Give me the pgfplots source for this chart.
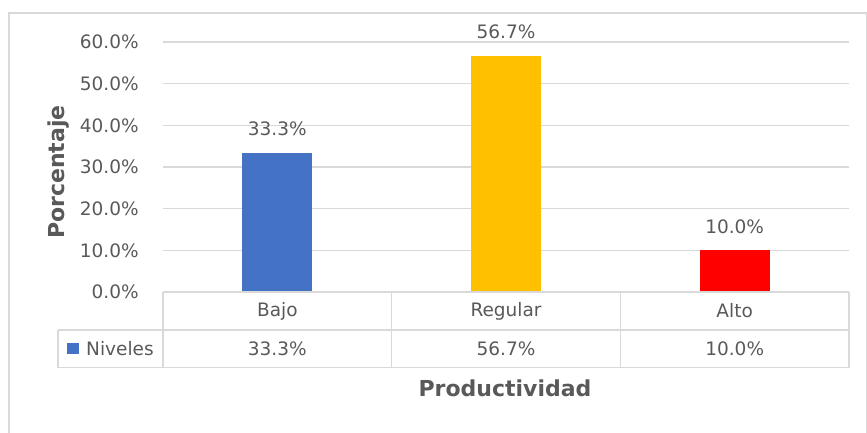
\documentclass[border=0pt]{standalone}
\usepackage{pgfplots}
\pgfplotsset{compat=1.18}
\usepackage{fontspec}
\setmainfont{DejaVu Sans}
\definecolor{txt}{HTML}{595959}
\definecolor{grd}{HTML}{D9D9D9}
\definecolor{cblue}{HTML}{4472C4}
\definecolor{cgold}{HTML}{FFC000}
\definecolor{cred}{HTML}{FF0000}
\begin{document}
\begin{tikzpicture}[x=1pt,y=1pt]
\fontsize{18.5}{22}\selectfont
\draw[grd, line width=1.3pt] (9,-5) rectangle (866.3,419);
\begin{axis}[
  at={(163pt,140pt)}, anchor=south west,
  width=686pt, height=250pt, scale only axis,
  xmin=-0.5, xmax=2.5, ymin=0, ymax=60,
  ybar, bar width=70pt, bar shift=0pt,
  axis line style={draw=none},
  major tick length=0pt,
  ytick={0,10,20,30,40,50,60},
  yticklabels={0.0\%,10.0\%,20.0\%,30.0\%,40.0\%,50.0\%,60.0\%},
  yticklabel style={font=\fontsize{18.5}{22}\selectfont, text=txt, xshift=-18pt},
  xtick={0,1,2},
  xticklabels={Bajo,Regular,Alto},
  xticklabel style={font=\fontsize{18.5}{22}\selectfont, text=txt, anchor=center, yshift=-19pt},
  ymajorgrids, grid style={grd, line width=1.3pt},
  clip=false,
  nodes near coords, point meta=explicit symbolic,
  nodes near coords style={anchor=center, yshift=24pt, font=\fontsize{18.5}{22}\selectfont, text=txt},
]
\addplot[fill=cblue, draw=none] coordinates {(0,33.3) [33.3\%]};
\addplot[fill=cgold, draw=none] coordinates {(1,56.7) [56.7\%]};
\addplot[fill=cred, draw=none] coordinates {(2,10.0) [10.0\%]};
\end{axis}
% data table
\draw[grd, line width=1.3pt] (163,140) -- (849,140);
\draw[grd, line width=1.3pt] (58,102) -- (849,102);
\draw[grd, line width=1.3pt] (58,64.3) -- (849,64.3);
\draw[grd, line width=1.3pt] (58,102) -- (58,64.3);
\draw[grd, line width=1.3pt] (163,140) -- (163,64.3);
\draw[grd, line width=1.3pt] (391.7,140) -- (391.7,64.3);
\draw[grd, line width=1.3pt] (620.3,140) -- (620.3,64.3);
\draw[grd, line width=1.3pt] (849,140) -- (849,64.3);
\fill[cblue] (67,78) rectangle (79,89);
\node[anchor=west, inner sep=0pt, text=txt] at (86,83) {Niveles};
\node[text=txt] at (277.3,83) {33.3\%};
\node[text=txt] at (506,83) {56.7\%};
\node[text=txt] at (734.7,83) {10.0\%};
% axis titles
\node[rotate=90, text=txt, font=\fontsize{22}{26}\selectfont\bfseries] at (59,260) {Porcentaje};
\node[text=txt, font=\fontsize{22}{26}\selectfont\bfseries] at (505,44) {Productividad};
\pgfresetboundingbox
\useasboundingbox (0,0) rectangle (867,432);
\end{tikzpicture}
\end{document}
